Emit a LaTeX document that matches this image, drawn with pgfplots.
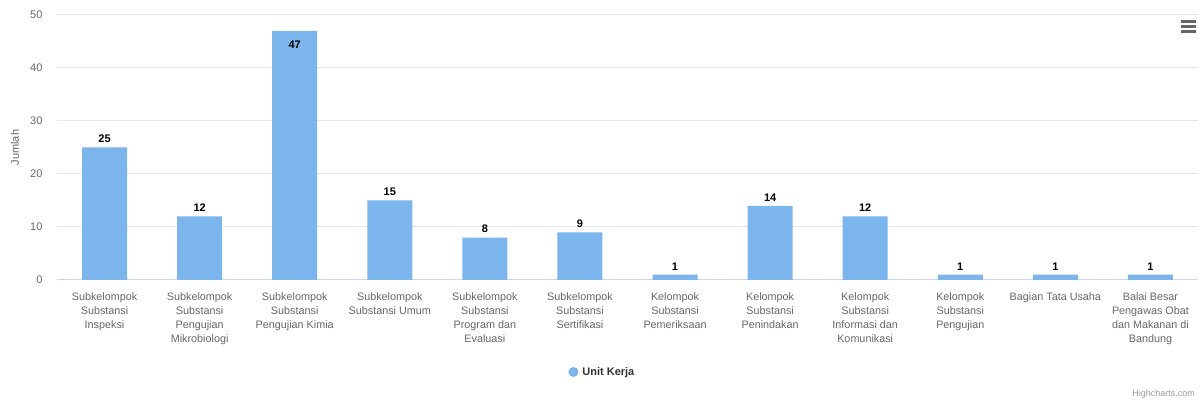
\documentclass[border=0pt]{standalone}
\usepackage{pgfplots}
\pgfplotsset{compat=1.18}
\usepackage{fontspec}
\setmainfont{Liberation Sans}
\definecolor{barblue}{HTML}{7CB5EC}
\definecolor{gridgray}{HTML}{E6E6E6}
\definecolor{axisline}{HTML}{CCD6EB}
\definecolor{labelgray}{HTML}{666666}
\definecolor{legendtext}{HTML}{333333}
\definecolor{creditgray}{HTML}{999999}
\begin{document}
\begin{tikzpicture}[x=1pt,y=1pt]
\path[use as bounding box] (-57,-121) rectangle (1146,280);
\begin{axis}[
  at={(0,0)}, anchor=south west,
  width=1141pt, height=265pt, scale only axis,
  xmin=-0.5, xmax=11.5, ymin=0, ymax=50,
  ytick={0,10,...,50},
  xtick={0,...,11},
  xticklabels={
    {Subkelompok\\Substansi\\Inspeksi},
    {Subkelompok\\Substansi\\Pengujian\\Mikrobiologi},
    {Subkelompok\\Substansi\\Pengujian Kimia},
    {Subkelompok\\Substansi Umum},
    {Subkelompok\\Substansi\\Program dan\\Evaluasi},
    {Subkelompok\\Substansi\\Sertifikasi},
    {Kelompok\\Substansi\\Pemeriksaan},
    {Kelompok\\Substansi\\Penindakan},
    {Kelompok\\Substansi\\Informasi dan\\Komunikasi},
    {Kelompok\\Substansi\\Pengujian},
    {Bagian Tata Usaha},
    {Balai Besar\\Pengawas Obat\\dan Makanan di\\Bandung}},
  xticklabel style={align=center, font=\fontsize{10.8}{14}\selectfont, text=labelgray, anchor=north, yshift=-9pt},
  yticklabel style={font=\fontsize{11}{13}\selectfont, text=labelgray, xshift=-11pt},
  /pgf/number format/assume math mode=true,
  major tick length=0pt,
  axis lines*=left,
  x axis line style={draw=axisline, line width=1pt, -},
  y axis line style={draw=none},
  ymajorgrids,
  grid style={draw=gridgray, line width=1pt},
  ylabel={Jumlah},
  ylabel style={at={(axis description cs:-0.0368,0.5)}, anchor=center, font=\fontsize{11}{13}\selectfont, text=labelgray},
  legend style={at={(0.478,-0.347)}, anchor=center, draw=none, fill=none,
    font=\bfseries\fontsize{11}{14}\selectfont, text=legendtext},
  legend image code/.code={\fill[barblue] (0pt,0pt) circle (5pt); \path (-5pt,0pt) -- (7pt,0pt);},
  clip=false,
]
\addplot[ybar, bar width=45pt, fill=barblue, draw=none,
  point meta=explicit symbolic,
  nodes near coords,
  nodes near coords style={font=\bfseries\fontsize{11}{13}\selectfont, text=black, anchor=south, yshift=1pt}]
  coordinates {
  (0,25) [25]
  (1,12) [12]
  (2,47) []
  (3,15) [15]
  (4,8) [8]
  (5,9) [9]
  (6,1) [1]
  (7,14) [14]
  (8,12) [12]
  (9,1) [1]
  (10,1) [1]
  (11,1) [1]
  };
\addlegendentry{Unit Kerja}
\addplot[draw=none, mark=none, forget plot,
  point meta=y,
  nodes near coords,
  nodes near coords style={font=\bfseries\fontsize{11}{13}\selectfont, text=black, anchor=north, yshift=-7pt}]
  coordinates {(2,47)};
\end{axis}
\foreach \yy in {258.3,253.3,248.3}
  \draw[labelgray, line width=2.4pt] (1124,\yy) -- (1139,\yy);
\node[anchor=east, font=\fontsize{9}{11}\selectfont, text=creditgray, inner sep=0pt] at (1138,-114) {Highcharts.com};
\end{tikzpicture}
\end{document}
